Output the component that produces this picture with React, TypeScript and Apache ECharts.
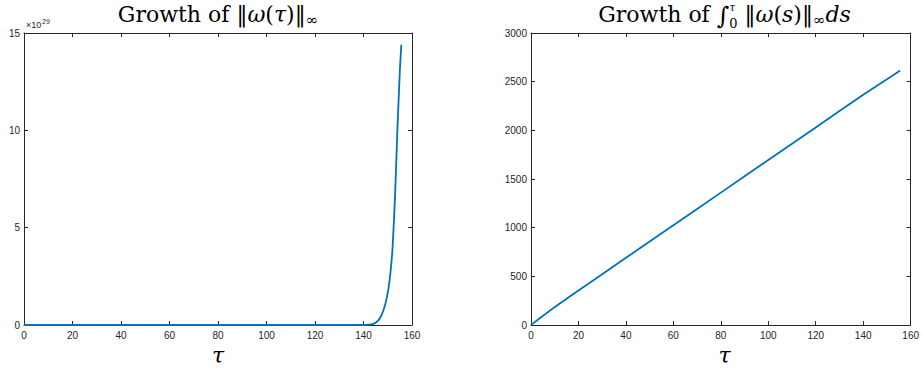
import React, { useEffect, useRef } from "react";
import * as echarts from "echarts";

// ---- data ----------------------------------------------------------------
// sup-norm of vorticity (in units of 1e29) versus tau
const tauNorm = [0, 20, 40, 60, 80, 100, 120, 140, 141, 142, 143, 144, 145, 146, 147, 148, 149, 150, 151, 152, 153, 154, 155, 155.6];
const normValues = [0, 0, 0, 0, 0, 0, 0, 0, 0.005, 0.012, 0.028, 0.06, 0.12, 0.22, 0.4, 0.68, 1.08, 1.65, 2.55, 4.0, 6.6, 10.1, 13.1, 14.4];

// time integral of the sup-norm versus tau
const tauIntegral = [0, 3, 6, 9, 12, 16, 20, 40, 60, 80, 100, 120, 140, 155.6];
const integralValues = [0, 56, 112, 166, 218, 287, 354, 690, 1025, 1360, 1695, 2030, 2365, 2615];

const xTicks = { min: 0, max: 160, interval: 20 };
const yTicksNorm = { min: 0, max: 15, interval: 5 };
const yTicksIntegral = { min: 0, max: 3000, interval: 500 };
const normExponent = "29";

// ---- styling ---------------------------------------------------------------
const AXIS = "#262626";
const LINE = "#0072BD";
const SERIF = '"DejaVu Serif", "Liberation Serif", serif';
const SANS = '"Liberation Sans", Arial, Helvetica, sans-serif';

const grids = [
  { left: 24, top: 33, width: 388, height: 292 },
  { left: 531, top: 33, width: 387, height: 292 },
];

type Piece = { t: string; size?: number; italic?: boolean; dy?: number; stack?: boolean };

let measureCtx: CanvasRenderingContext2D | null = null;
function fontOf(p: Piece, base: number) {
  return `${p.italic ? "italic " : ""}${p.size ?? base}px ${SERIF}`;
}
function widthOf(p: Piece, base: number) {
  if (!measureCtx) measureCtx = document.createElement("canvas").getContext("2d");
  measureCtx!.font = fontOf(p, base);
  return measureCtx!.measureText(p.t).width;
}

// Lays out a formula made of text pieces, centred on cx, with per-piece offsets.
function formula(pieces: Piece[], cx: number, cy: number, base: number) {
  const widths = pieces.map((p) => widthOf(p, base));
  // pieces flagged "stack" share the x position of the previous piece
  let total = 0;
  const xs: number[] = [];
  let prevX = 0;
  let prevW = 0;
  pieces.forEach((p, i) => {
    if (p.stack) {
      xs.push(prevX);
      const extra = Math.max(0, widths[i] - prevW);
      total += extra;
      prevW = Math.max(prevW, widths[i]);
    } else {
      xs.push(total);
      prevX = total;
      prevW = widths[i];
      total += widths[i];
    }
  });
  const x0 = cx - total / 2;
  return pieces.map((p, i) => ({
    type: "text",
    x: x0 + xs[i],
    y: cy + (p.dy ?? 0),
    silent: true,
    style: {
      text: p.t,
      font: fontOf(p, base),
      fill: "#000",
      align: "left",
      verticalAlign: "middle",
    },
  }));
}

const titleNorm: Piece[] = [
  { t: "Growth of " },
  { t: "‖" },
  { t: "ω", italic: true },
  { t: "(" },
  { t: "τ", italic: true },
  { t: ")" },
  { t: "‖" },
  { t: "∞", size: 15, dy: 6 },
];

const titleIntegral: Piece[] = [
  { t: "Growth of " },
  { t: "∫", size: 24, dy: 2 },
  { t: "τ", size: 11, italic: true, dy: -7 },
  { t: "0", size: 13, dy: 9, stack: true },
  { t: " ‖" },
  { t: "ω", italic: true },
  { t: "(" },
  { t: "s", italic: true },
  { t: ")" },
  { t: "‖" },
  { t: "∞", size: 15, dy: 6 },
  { t: "ds", italic: true },
];

function axisPair(gridIndex: number, ticks: { min: number; max: number; interval: number }, kind: "x" | "y") {
  const common = {
    type: "value",
    gridIndex,
    min: ticks.min,
    max: ticks.max,
    interval: ticks.interval,
    splitLine: { show: false },
    axisLine: { show: true, onZero: false, lineStyle: { color: AXIS, width: 1 } },
    axisTick: { show: true, inside: true, length: 4, lineStyle: { color: AXIS, width: 1 } },
  };
  const main = {
    ...common,
    position: kind === "x" ? "bottom" : "left",
    axisLabel: {
      show: true,
      color: AXIS,
      fontFamily: SANS,
      fontSize: 10,
      margin: kind === "x" ? 5 : 4,
      formatter: (v: number) => String(v),
    },
  };
  const mirror = {
    ...common,
    position: kind === "x" ? "top" : "right",
    axisLabel: { show: false },
  };
  return [main, mirror];
}

export default function App() {
  const ref = useRef<HTMLDivElement>(null);

  useEffect(() => {
    if (!ref.current) return;
    const chart = echarts.init(ref.current, undefined, { renderer: "svg", width: 922, height: 370 });

    const xAxis = [...axisPair(0, xTicks, "x"), ...axisPair(1, xTicks, "x")];
    const yAxis = [...axisPair(0, yTicksNorm, "y"), ...axisPair(1, yTicksIntegral, "y")];

    const centers = grids.map((g) => g.left + g.width / 2);

    chart.setOption({
      animation: false,
      grid: grids.map((g) => ({ ...g, containLabel: false })),
      xAxis,
      yAxis,
      series: [
        {
          type: "line",
          xAxisIndex: 0,
          yAxisIndex: 0,
          data: tauNorm.map((t, i) => [t, normValues[i]]),
          showSymbol: false,
          smooth: 0.2,
          lineStyle: { color: LINE, width: 1.8 },
          itemStyle: { color: LINE },
        },
        {
          type: "line",
          xAxisIndex: 2,
          yAxisIndex: 2,
          data: tauIntegral.map((t, i) => [t, integralValues[i]]),
          showSymbol: false,
          smooth: 0.2,
          lineStyle: { color: LINE, width: 1.8 },
          itemStyle: { color: LINE },
        },
      ],
      graphic: [
        ...formula(titleNorm, centers[0], 14, 22),
        ...formula(titleIntegral, centers[1], 14, 22),
        ...formula([{ t: "τ", italic: true, size: 22 }], centers[0], 355, 22),
        ...formula([{ t: "τ", italic: true, size: 22 }], centers[1], 355, 22),
        {
          type: "text",
          x: 26,
          y: 25,
          silent: true,
          style: { text: "×10", font: `9px ${SANS}`, fill: AXIS, align: "left", verticalAlign: "middle" },
        },
        {
          type: "text",
          x: 42,
          y: 21,
          silent: true,
          style: { text: normExponent, font: `7px ${SANS}`, fill: AXIS, align: "left", verticalAlign: "middle" },
        },
      ],
    });

    return () => chart.dispose();
  }, []);

  return (
    <div
      ref={ref}
      style={{ position: "absolute", left: 0, top: 0, width: 922, height: 370, background: "#fff" }}
    />
  );
}
